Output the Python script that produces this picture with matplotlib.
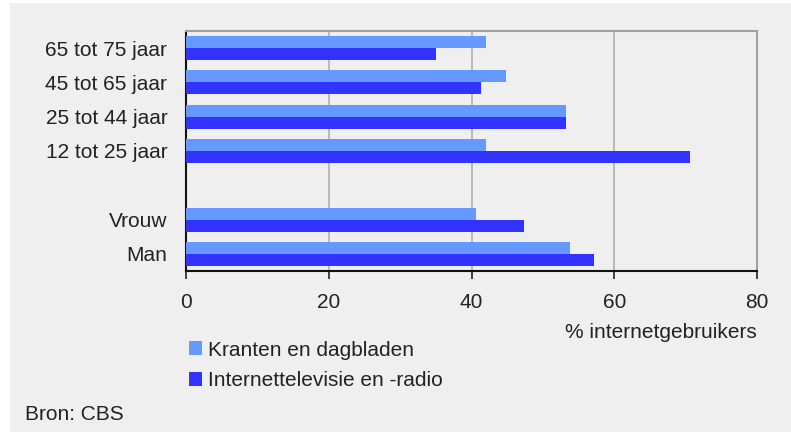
import matplotlib.pyplot as plt
import numpy as np
from matplotlib.patches import Rectangle

# categorieen van boven naar beneden ("" is de lege rij tussen leeftijd en geslacht)
categorieen = ["65 tot 75 jaar", "45 tot 65 jaar", "25 tot 44 jaar", "12 tot 25 jaar", "", "Vrouw", "Man"]
kranten = [42.1, 44.9, 53.2, 42.1, np.nan, 40.6, 53.8]
internet_tv = [35.0, 41.4, 53.2, 70.6, np.nan, 47.4, 57.2]
x_ticks = [0, 20, 40, 60, 80]

plt.rcParams["font.family"] = ["Liberation Sans", "DejaVu Sans"]

BG = "#efefef"
FS = 15
fig = plt.figure(figsize=(7.91, 4.37), dpi=100, facecolor="white")
fig.patches.append(Rectangle((10 / 791, 1 - 432 / 437), 781 / 791, 429 / 437,
                             transform=fig.transFigure, facecolor=BG,
                             edgecolor="none", zorder=-10))

ax = fig.add_axes([186 / 791, 1 - 271 / 437, 571 / 791, 240 / 437])
ax.set_facecolor(BG)

y = np.arange(len(categorieen))
h = 0.35
ax.barh(y - h / 2, kranten, height=h, color="#6699ff", label="Kranten en dagbladen", zorder=3)
ax.barh(y + h / 2, internet_tv, height=h, color="#3333ff", label="Internettelevisie en -radio", zorder=3)

ax.set_ylim(len(categorieen) - 0.5, -0.5)
ax.set_xlim(0, 80)
ax.set_yticks(y)
ax.set_yticklabels(categorieen, fontsize=FS, color="#222222")
ax.tick_params(axis="y", length=0, pad=13.5)
ax.set_xticks(x_ticks)
ax.set_xticklabels([str(t) for t in x_ticks], fontsize=FS, color="#222222")
ax.tick_params(axis="x", length=6, width=1.2, color="#222222", pad=10)

ax.grid(axis="x", color="#b0b0b0", linewidth=1.2, zorder=0)
for kant in ["left", "bottom"]:
    ax.spines[kant].set_color("#111111")
    ax.spines[kant].set_linewidth(1.5)
for kant in ["top", "right"]:
    ax.spines[kant].set_color("#a0a0a0")
    ax.spines[kant].set_linewidth(1.5)

fig.text(757 / 791, 1 - 332 / 437, "% internetgebruikers", ha="right", va="center",
         fontsize=FS, color="#222222")

leg = fig.legend(loc="upper left", bbox_to_anchor=(170 / 791, 1 - 322 / 437),
                 frameon=False, fontsize=FS, handlelength=0.65, handleheight=0.65,
                 handletextpad=0.25, labelspacing=0.55)
for t in leg.get_texts():
    t.set_color("#222222")

fig.text(25 / 791, 1 - 414 / 437, "Bron: CBS", ha="left", va="center",
         fontsize=FS, color="#222222")

fig.savefig("out.png", dpi=100, facecolor=fig.get_facecolor())
